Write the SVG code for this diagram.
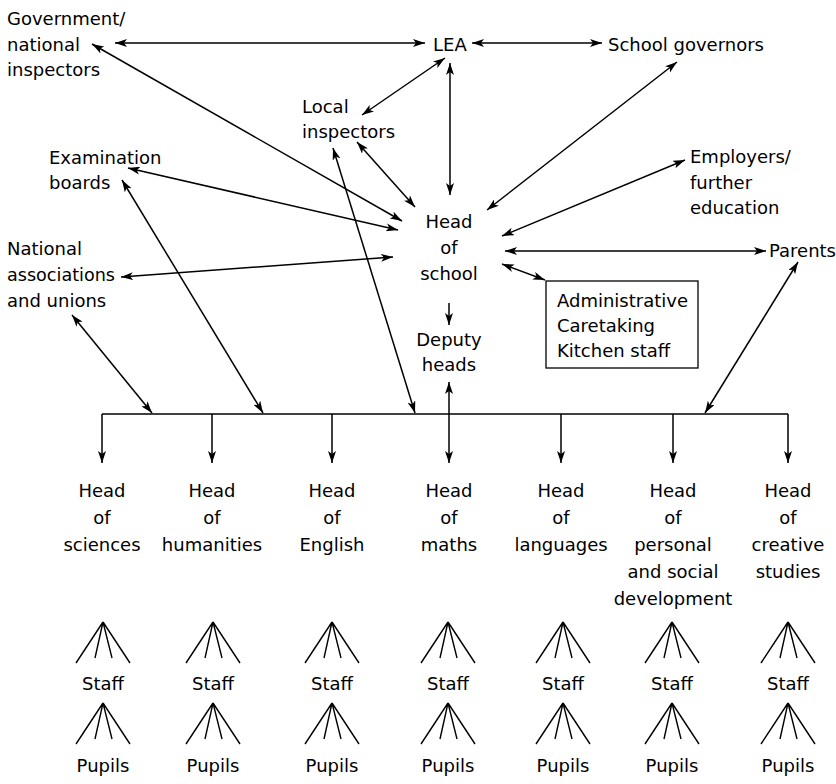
<svg xmlns="http://www.w3.org/2000/svg" width="836" height="784" viewBox="0 0 836 784">
<style>
text{font-family:"DejaVu Sans","Liberation Sans",sans-serif;font-size:18px;fill:#000}
.c{text-anchor:middle}
.l{stroke:#000;stroke-width:1.5;fill:none}
.b{marker-start:url(#ah);marker-end:url(#ah)}
.e{marker-end:url(#ah)}
</style>
<defs>
<marker id="ah" viewBox="0 0 12 8" refX="12" refY="4" markerWidth="12" markerHeight="8" markerUnits="userSpaceOnUse" orient="auto-start-reverse">
<path d="M0,0 L12,4 L0,8 L3,4 z" fill="#000"/>
</marker>
<path id="fan" d="M0,0 L-27,41 M0,0 L-8,36 M0,0 L9,36 M0,0 L27,41" stroke="#000" stroke-width="1.4" fill="none"/>
</defs>
<g id="connectors">
<line class="l b" x1="115" y1="43" x2="425" y2="43"/>
<line class="l b" x1="472" y1="43" x2="602" y2="43"/>
<line class="l b" x1="450" y1="63" x2="450" y2="195"/>
<line class="l b" x1="445" y1="58" x2="362" y2="115"/>
<line class="l b" x1="92" y1="44" x2="402" y2="221"/>
<line class="l b" x1="357" y1="142" x2="415" y2="207"/>
<line class="l b" x1="128" y1="168" x2="398" y2="230"/>
<line class="l b" x1="333" y1="148" x2="415" y2="413"/>
<line class="l b" x1="122" y1="180" x2="263" y2="413"/>
<line class="l b" x1="121" y1="277" x2="393" y2="257"/>
<line class="l b" x1="72" y1="315" x2="152" y2="413"/>
<line class="l b" x1="677" y1="62" x2="487" y2="210"/>
<line class="l b" x1="685" y1="160" x2="502" y2="236"/>
<line class="l b" x1="505" y1="251" x2="766" y2="251"/>
<line class="l b" x1="502" y1="264" x2="545" y2="280"/>
<line class="l b" x1="798" y1="262" x2="705" y2="413"/>
<line class="l e" x1="449" y1="303" x2="449" y2="325"/>
<line class="l b" x1="449" y1="382" x2="449" y2="463"/>
<line class="l" x1="102" y1="414" x2="788" y2="414"/>
<line class="l e" x1="102" y1="414" x2="102" y2="463"/>
<line class="l e" x1="212" y1="414" x2="212" y2="463"/>
<line class="l e" x1="332" y1="414" x2="332" y2="463"/>
<line class="l e" x1="561" y1="414" x2="561" y2="463"/>
<line class="l e" x1="673" y1="414" x2="673" y2="463"/>
<line class="l e" x1="788" y1="414" x2="788" y2="463"/>
</g>
<g id="government"><text x="7" y="25">Government/</text><text x="7" y="51">national</text><text x="7" y="76">inspectors</text></g>
<g id="lea"><text x="433" y="51">LEA</text></g>
<g id="governors"><text x="608" y="51">School governors</text></g>
<g id="local"><text x="302" y="113">Local</text><text x="302" y="138">inspectors</text></g>
<g id="exam"><text x="49" y="164">Examination</text><text x="49" y="189">boards</text></g>
<g id="employers"><text x="690" y="163">Employers/</text><text x="690" y="189">further</text><text x="690" y="214">education</text></g>
<g id="head"><text class="c" x="449" y="228">Head</text><text class="c" x="449" y="254">of</text><text class="c" x="449" y="280">school</text></g>
<g id="national"><text x="7" y="255">National</text><text x="7" y="281" textLength="108" lengthAdjust="spacingAndGlyphs">associations</text><text x="7" y="307">and unions</text></g>
<g id="parents"><text x="769" y="257">Parents</text></g>
<g id="admin"><rect x="546" y="281" width="152" height="87" fill="none" stroke="#000" stroke-width="1.3"/><text x="557" y="307">Administrative</text><text x="557" y="332">Caretaking</text><text x="557" y="357">Kitchen staff</text></g>
<g id="deputy"><text class="c" x="449" y="346">Deputy</text><text class="c" x="449" y="371">heads</text></g>
<g id="h-sci"><text class="c" x="102" y="497">Head</text><text class="c" x="102" y="524">of</text><text class="c" x="102" y="551">sciences</text></g>
<g id="h-hum"><text class="c" x="212" y="497">Head</text><text class="c" x="212" y="524">of</text><text class="c" x="212" y="551">humanities</text></g>
<g id="h-eng"><text class="c" x="332" y="497">Head</text><text class="c" x="332" y="524">of</text><text class="c" x="332" y="551">English</text></g>
<g id="h-mat"><text class="c" x="449" y="497">Head</text><text class="c" x="449" y="524">of</text><text class="c" x="449" y="551">maths</text></g>
<g id="h-lan"><text class="c" x="561" y="497">Head</text><text class="c" x="561" y="524">of</text><text class="c" x="561" y="551">languages</text></g>
<g id="h-psd"><text class="c" x="673" y="497">Head</text><text class="c" x="673" y="524">of</text><text class="c" x="673" y="551">personal</text><text class="c" x="673" y="578">and social</text><text class="c" x="673" y="605">development</text></g>
<g id="h-cre"><text class="c" x="788" y="497">Head</text><text class="c" x="788" y="524">of</text><text class="c" x="788" y="551">creative</text><text class="c" x="788" y="578">studies</text></g>
<g id="staff-pupils">
<use href="#fan" x="103" y="622"/><use href="#fan" x="213" y="622"/><use href="#fan" x="332" y="622"/><use href="#fan" x="448" y="622"/><use href="#fan" x="563" y="622"/><use href="#fan" x="672" y="622"/><use href="#fan" x="788" y="622"/>
<use href="#fan" x="103" y="703"/><use href="#fan" x="213" y="703"/><use href="#fan" x="332" y="703"/><use href="#fan" x="448" y="703"/><use href="#fan" x="563" y="703"/><use href="#fan" x="672" y="703"/><use href="#fan" x="788" y="703"/>
<text class="c" x="103" y="690">Staff</text><text class="c" x="213" y="690">Staff</text><text class="c" x="332" y="690">Staff</text><text class="c" x="448" y="690">Staff</text><text class="c" x="563" y="690">Staff</text><text class="c" x="672" y="690">Staff</text><text class="c" x="788" y="690">Staff</text>
<text class="c" x="103" y="772">Pupils</text><text class="c" x="213" y="772">Pupils</text><text class="c" x="332" y="772">Pupils</text><text class="c" x="448" y="772">Pupils</text><text class="c" x="563" y="772">Pupils</text><text class="c" x="672" y="772">Pupils</text><text class="c" x="788" y="772">Pupils</text>
</g>
</svg>
